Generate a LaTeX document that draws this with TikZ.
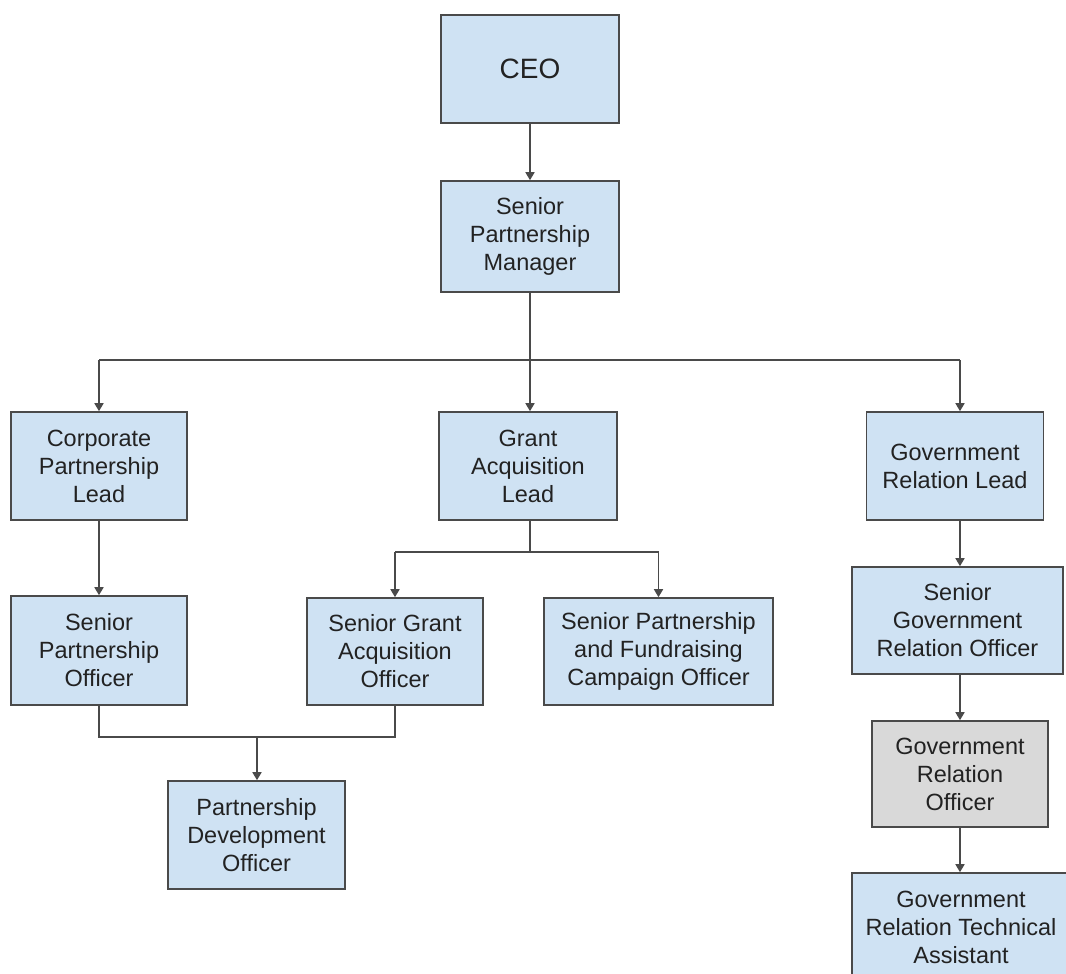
\documentclass[tikz,border=0pt]{standalone}
\usepackage{fontspec}
\setmainfont{Liberation Sans}
\usetikzlibrary{arrows.meta}
\definecolor{boxblue}{HTML}{CFE2F3}
\definecolor{boxgrey}{HTML}{D9D9D9}
\definecolor{edgegrey}{HTML}{4A4A4A}
\definecolor{txt}{HTML}{222222}
\tikzset{
  orgbox/.style={draw=edgegrey, line width=1.6pt, fill=boxblue, rectangle, inner sep=0pt,
    align=center, text=txt, font=\fontsize{23.5}{28}\selectfont},
  greybox/.style={orgbox, fill=boxgrey},
  link/.style={draw=edgegrey, line width=1.6pt},
  arr/.style={link, -{Triangle[width=9pt,length=8pt]}}
}
\begin{document}
\begin{tikzpicture}[x=1pt,y=-1pt]
\useasboundingbox (0,0) rectangle (1066,974);
% boxes
\node[orgbox, minimum width=178pt, minimum height=108pt, font=\fontsize{28}{32}\selectfont] (ceo) at (530,69) {CEO};
\node[orgbox, minimum width=178pt, minimum height=111pt] (spm) at (530,236.5) {Senior\\Partnership\\Manager};
\node[orgbox, minimum width=176pt, minimum height=108pt] (cpl) at (99,466) {Corporate\\Partnership\\Lead};
\node[orgbox, minimum width=178pt, minimum height=108pt] (gal) at (528,466) {Grant\\Acquisition\\Lead};
\node[orgbox, minimum width=177pt, minimum height=108pt] (grl) at (955,466) {Government\\Relation Lead};
\node[orgbox, minimum width=176pt, minimum height=109pt] (spo) at (99,650.5) {Senior\\Partnership\\Officer};
\node[orgbox, minimum width=176pt, minimum height=107pt] (sgao) at (395,651.5) {Senior Grant\\Acquisition\\Officer};
\node[orgbox, minimum width=229pt, minimum height=107pt] (spfco) at (658.5,651.5) {Senior Partnership\\and Fundraising\\Campaign Officer};
\node[orgbox, minimum width=211pt, minimum height=107pt] (sgro) at (957.5,620.5) {Senior\\Government\\Relation Officer};
\node[greybox, minimum width=176pt, minimum height=106pt] (gro) at (960,774) {Government\\Relation\\Officer};
\node[orgbox, minimum width=218pt, minimum height=108pt] (grta) at (961,927) {Government\\Relation Technical\\Assistant};
\node[orgbox, minimum width=177pt, minimum height=108pt] (pdo) at (256.5,835) {Partnership\\Development\\Officer};
% helper coordinates
\coordinate (gx) at (960,0);
\coordinate (bus1) at (0,360);
\coordinate (bus2) at (0,552);
\coordinate (bus3) at (257,737);
% connectors
\draw[arr] (ceo) -- (spm);
\draw[link] (spm.south) -- (spm.south |- bus1);
\draw[link] (cpl.north |- bus1) -- (gx |- bus1);
\draw[arr] (cpl.north |- bus1) -- (cpl.north);
\draw[arr] (spm.south |- bus1) -- (spm.south |- gal.north);
\draw[arr] (gx |- bus1) -- (gx |- grl.north);
\draw[arr] (cpl) -- (spo);
\draw[link] (gal.south -| spm.south) -- (spm.south |- bus2);
\draw[link] (sgao.north |- bus2) -- (spfco.north |- bus2);
\draw[arr] (sgao.north |- bus2) -- (sgao.north);
\draw[arr] (spfco.north |- bus2) -- (spfco.north);
\draw[link] (spo.south) -- (spo.south |- bus3) -- (sgao.south |- bus3) -- (sgao.south);
\draw[arr] (bus3) -- (pdo.north -| bus3);
\draw[arr] (gx |- grl.south) -- (gx |- sgro.north);
\draw[arr] (gx |- sgro.south) -- (gx |- gro.north);
\draw[arr] (gx |- gro.south) -- (gx |- grta.north);
\end{tikzpicture}
\end{document}
